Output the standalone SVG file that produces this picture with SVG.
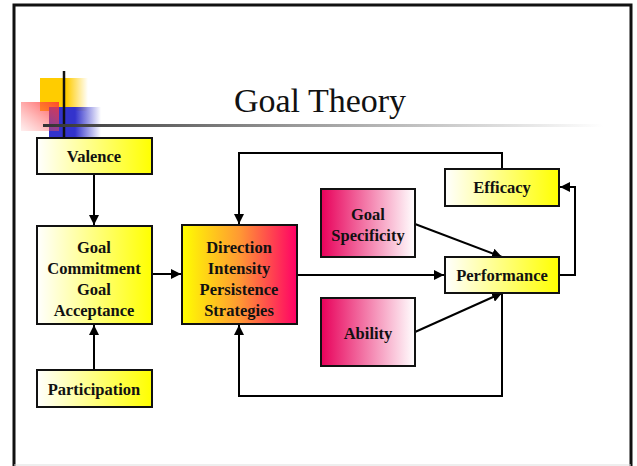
<svg xmlns="http://www.w3.org/2000/svg" width="637" height="466" viewBox="0 0 637 466">
  <defs>
    <linearGradient id="gYellow" x1="0" y1="0" x2="1" y2="0">
      <stop offset="0" stop-color="#FFFFFF"/>
      <stop offset="1" stop-color="#FFFF00"/>
    </linearGradient>
    <linearGradient id="gHot" x1="0" y1="0" x2="1" y2="0">
      <stop offset="0" stop-color="#FFFF00"/>
      <stop offset="0.5" stop-color="#FF9933"/>
      <stop offset="1" stop-color="#FF0066"/>
    </linearGradient>
    <linearGradient id="gPink" x1="0" y1="0" x2="1" y2="0">
      <stop offset="0" stop-color="#E8005A"/>
      <stop offset="1" stop-color="#FFFFFF"/>
    </linearGradient>
    <linearGradient id="gRule" x1="0" y1="0" x2="1" y2="0">
      <stop offset="0" stop-color="#333333"/>
      <stop offset="0.45" stop-color="#999999"/>
      <stop offset="1" stop-color="#FFFFFF"/>
    </linearGradient>
    <linearGradient id="gSqYellow" x1="0" y1="0" x2="1" y2="0">
      <stop offset="0" stop-color="#FFCC00"/>
      <stop offset="0.55" stop-color="#FFCC00"/>
      <stop offset="1" stop-color="#FFCC00" stop-opacity="0"/>
    </linearGradient>
    <linearGradient id="gSqBlue" x1="0" y1="0" x2="1" y2="0">
      <stop offset="0" stop-color="#3333CC"/>
      <stop offset="0.5" stop-color="#3333CC"/>
      <stop offset="1" stop-color="#3333CC" stop-opacity="0"/>
    </linearGradient>
    <linearGradient id="gSqRed" x1="1" y1="0" x2="0" y2="1">
      <stop offset="0" stop-color="#FF3333" stop-opacity="0.85"/>
      <stop offset="1" stop-color="#FF6666" stop-opacity="0.1"/>
    </linearGradient>
    <marker id="arrow" viewBox="0 0 10 10" refX="10" refY="5" markerWidth="10" markerHeight="10" markerUnits="userSpaceOnUse" orient="auto">
      <path d="M0,0 L10,5 L0,10 Z" fill="#000"/>
    </marker>
  </defs>
  <style>
    .box { stroke: #111; stroke-width: 2; }
    .lbl { font-family: "Liberation Serif", "Times New Roman", serif; font-weight: bold; font-size: 16.5px; fill: #111; text-anchor: middle; }
    .conn { fill: none; stroke: #000; stroke-width: 2; }
  </style>

  <rect width="637" height="466" fill="#FFFFFF"/>

  <!-- slide frame -->
  <path d="M14,466 V5 H631 V466" fill="none" stroke="#111" stroke-width="3"/>
  <line x1="14" y1="465" x2="631" y2="465" stroke="#DDDDDD" stroke-width="1"/>

  <!-- title ornament -->
  <g id="ornament">
    <rect x="40" y="78" width="48" height="33" fill="url(#gSqYellow)"/>
    <rect x="49" y="107" width="52" height="30" fill="url(#gSqBlue)"/>
    <rect x="21" y="102" width="38" height="29" fill="url(#gSqRed)"/>
    <line x1="64" y1="71" x2="64" y2="138" stroke="#111" stroke-width="2.5"/>
    <rect x="43" y="124" width="560" height="3" fill="url(#gRule)"/>
  </g>

  <text x="320" y="112" font-family="Liberation Serif, 'Times New Roman', serif" font-size="34" fill="#111" text-anchor="middle">Goal Theory</text>

  <!-- connectors -->
  <g id="connectors">
    <line class="conn" x1="94" y1="174" x2="94" y2="225" marker-end="url(#arrow)"/>
    <line class="conn" x1="94" y1="369" x2="94" y2="325" marker-end="url(#arrow)"/>
    <line class="conn" x1="152" y1="274" x2="181" y2="274" marker-end="url(#arrow)"/>
    <line class="conn" x1="297" y1="275" x2="444" y2="275" marker-end="url(#arrow)"/>
    <line class="conn" x1="415" y1="224" x2="502" y2="257" marker-end="url(#arrow)"/>
    <line class="conn" x1="415" y1="332" x2="502" y2="293" marker-end="url(#arrow)"/>
    <polyline class="conn" points="559,275 575,275 575,187 560,187" marker-end="url(#arrow)"/>
    <polyline class="conn" points="502,169 502,153 239,153 239,224" marker-end="url(#arrow)"/>
    <polyline class="conn" points="502,293 502,396 239,396 239,325" marker-end="url(#arrow)"/>
  </g>

  <g id="valence">
    <rect class="box" x="37" y="138" width="115" height="36" fill="url(#gYellow)"/>
    <text class="lbl" x="94" y="162">Valence</text>
  </g>

  <g id="goal-commitment">
    <rect class="box" x="37" y="226" width="115" height="98" fill="url(#gYellow)"/>
    <text class="lbl" x="94" y="253">Goal</text>
    <text class="lbl" x="94" y="274">Commitment</text>
    <text class="lbl" x="94" y="295">Goal</text>
    <text class="lbl" x="94" y="316">Acceptance</text>
  </g>

  <g id="participation">
    <rect class="box" x="37" y="370" width="115" height="37" fill="url(#gYellow)"/>
    <text class="lbl" x="94" y="395">Participation</text>
  </g>

  <g id="direction">
    <rect class="box" x="182" y="225" width="115" height="99" fill="url(#gHot)"/>
    <text class="lbl" x="239" y="253">Direction</text>
    <text class="lbl" x="239" y="274">Intensity</text>
    <text class="lbl" x="239" y="295">Persistence</text>
    <text class="lbl" x="239" y="316">Strategies</text>
  </g>

  <g id="goal-specificity">
    <rect class="box" x="321" y="189" width="94" height="68" fill="url(#gPink)"/>
    <text class="lbl" x="368" y="220">Goal</text>
    <text class="lbl" x="368" y="241">Specificity</text>
  </g>

  <g id="ability">
    <rect class="box" x="321" y="298" width="94" height="68" fill="url(#gPink)"/>
    <text class="lbl" x="368" y="339">Ability</text>
  </g>

  <g id="efficacy">
    <rect class="box" x="445" y="169" width="114" height="37" fill="url(#gYellow)"/>
    <text class="lbl" x="502" y="193">Efficacy</text>
  </g>

  <g id="performance">
    <rect class="box" x="445" y="257" width="114" height="36" fill="url(#gYellow)"/>
    <text class="lbl" x="502" y="281">Performance</text>
  </g>
</svg>
